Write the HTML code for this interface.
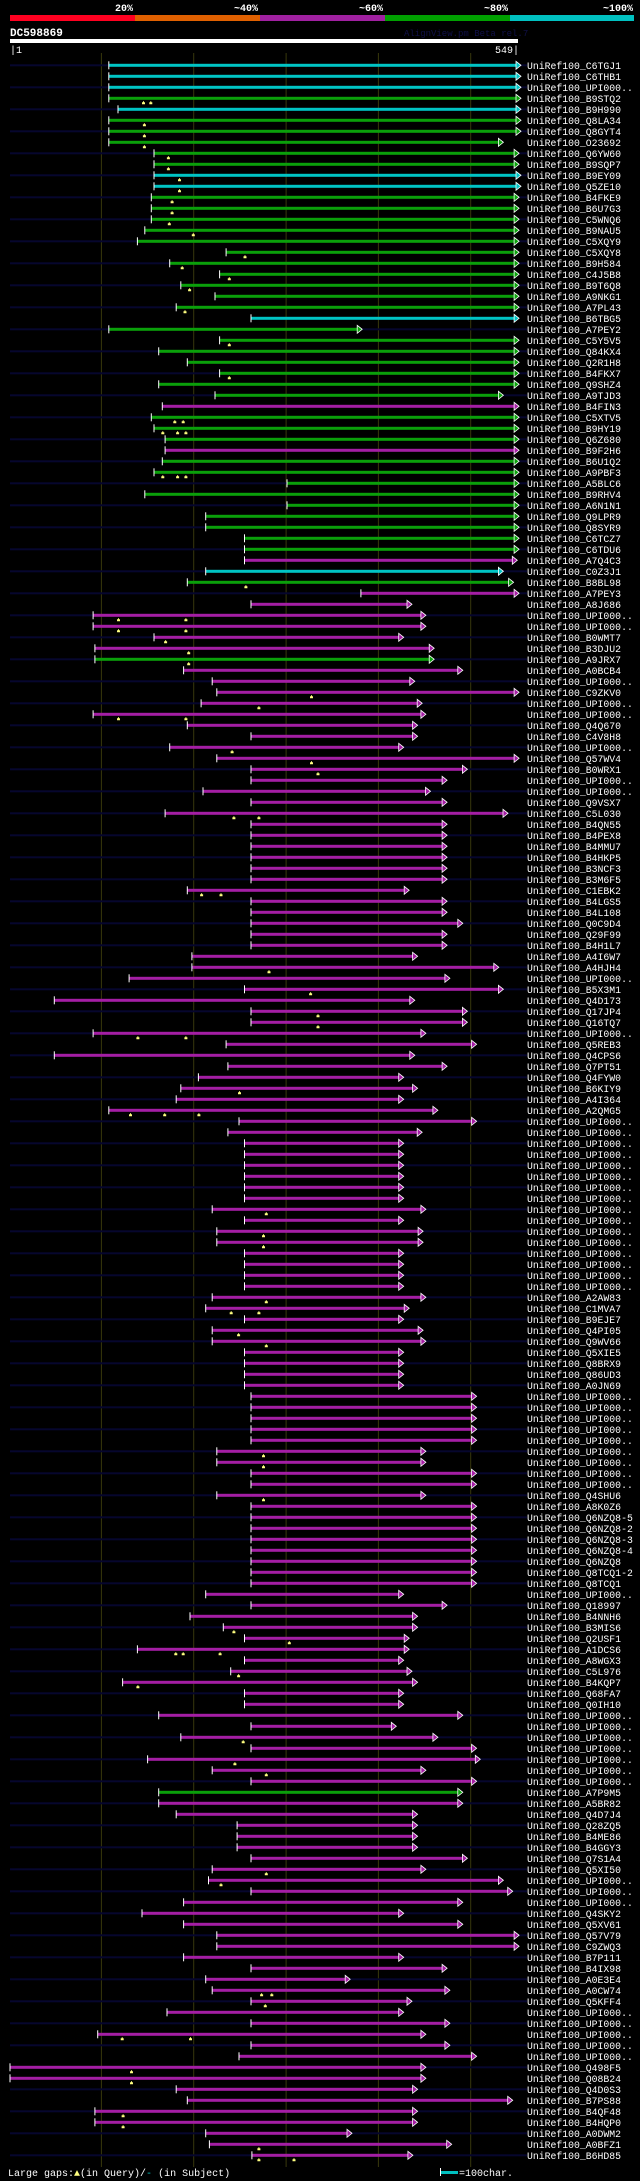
<!DOCTYPE html>
<html>
<head>
<meta charset="utf-8">
<style>
  html,body{margin:0;padding:0;background:#000;}
  body{width:640px;height:2181px;overflow:hidden;}
  svg{display:block;}
  text{font-family:"Liberation Mono","DejaVu Sans Mono",monospace;}
</style>
</head>
<body>
<svg id="chart" width="640" height="2181" viewBox="0 0 640 2181" xmlns="http://www.w3.org/2000/svg">
  <g>
    <rect x="10" y="15" width="125" height="6" fill="#ff0020"/>
    <rect x="135" y="15" width="125" height="6" fill="#e06000"/>
    <rect x="260" y="15" width="125" height="6" fill="#a020a0"/>
    <rect x="385" y="15" width="125" height="6" fill="#00a000"/>
    <rect x="510" y="15" width="124" height="6" fill="#00c0c0"/>
    <g font-size="10" font-weight="bold" fill="#fff" text-anchor="end">
      <text x="133" y="11">20%</text>
      <text x="258" y="11">~40%</text>
      <text x="383" y="11">~60%</text>
      <text x="508" y="11">~80%</text>
      <text x="633" y="11">~100%</text>
    </g>
  </g>
  <text x="10" y="36" font-size="11" font-weight="bold" fill="#fff">DC598869</text>
  <text x="404" y="36" font-size="9" fill="#101048">AlignView.pm Beta rel.7</text>
  <rect x="10" y="39" width="508" height="4" fill="#fff"/>
  <text x="10" y="53" font-size="10" fill="#fff">|1</text>
  <text x="519" y="53" font-size="10" fill="#fff" text-anchor="end">549|</text>
  <g id="grid"></g>
  <g id="rows"></g>
  <g>
    <text x="8" y="2176" font-size="10" fill="#fff">Large gaps:<tspan fill="#ffff80">▲</tspan>(in Query)/<tspan fill="#00c0c0">-</tspan> (in Subject)</text>
    <rect x="441" y="2171" width="17" height="3" fill="#00c0c0"/>
    <rect x="440" y="2168" width="1" height="8" fill="#fff"/>
    <text x="459" y="2176" font-size="10" fill="#fff">=100char.</text>
  </g>
</svg>
<script>
const gridTicks = [100, 200, 300, 400, 500];
const labels = ["C6TGJ1","C6THB1","UPI000..","B9STQ2","B9H990","Q8LA34","Q8GYT4","O23692","Q6YW60","B9SQP7","B9EY09","Q5ZE10","B4FKE9","B6U7G3","C5WNQ6","B9NAU5","C5XQY9","C5XQY8","B9H584","C4J5B8","B9T6Q8","A9NKG1","A7PL43","B6TBG5","A7PEY2","C5Y5V5","Q84KX4","Q2R1H8","B4FKX7","Q9SHZ4","A9TJD3","B4FIN3","C5XTV5","B9HY19","Q6Z680","B9F2H6","B6U1Q2","A9PBF3","A5BLC6","B9RHV4","A6N1N1","Q9LPR9","Q8SYR9","C6TCZ7","C6TDU6","A7Q4C3","C0Z3J1","B8BL98","A7PEY3","A8J686","UPI000..","UPI000..","B0WMT7","B3DJU2","A9JRX7","A0BCB4","UPI000..","C9ZKV0","UPI000..","UPI000..","Q4Q670","C4V8H8","UPI000..","Q57WV4","B0WRX1","UPI000..","UPI000..","Q9VSX7","C5L030","B4QN55","B4PEX8","B4MMU7","B4HKP5","B3NCF3","B3M6F5","C1EBK2","B4LGS5","B4L108","Q0C9D4","Q29F99","B4H1L7","A4I6W7","A4HJH4","UPI000..","B5X3M1","Q4D173","Q17JP4","Q16TQ7","UPI000..","Q5REB3","Q4CPS6","Q7PT51","Q4FYW0","B6KIY9","A4I364","A2QMG5","UPI000..","UPI000..","UPI000..","UPI000..","UPI000..","UPI000..","UPI000..","UPI000..","UPI000..","UPI000..","UPI000..","UPI000..","UPI000..","UPI000..","UPI000..","UPI000..","A2AW83","C1MVA7","B9EJE7","Q4PI05","Q9WV66","Q5XIE5","Q8BRX9","Q86UD3","A0JN69","UPI000..","UPI000..","UPI000..","UPI000..","UPI000..","UPI000..","UPI000..","UPI000..","UPI000..","Q4SHU6","A8K0Z6","Q6NZQ8-5","Q6NZQ8-2","Q6NZQ8-3","Q6NZQ8-4","Q6NZQ8","Q8TCQ1-2","Q8TCQ1","UPI000..","Q18997","B4NNH6","B3MIS6","Q2USF1","A1DCS6","A8WGX3","C5L976","B4KQP7","Q68FA7","Q0IH10","UPI000..","UPI000..","UPI000..","UPI000..","UPI000..","UPI000..","UPI000..","A7P9M5","A5BR82","Q4D7J4","Q28ZQ5","B4ME86","B4GGY3","Q7S1A4","Q5XI50","UPI000..","UPI000..","UPI000..","Q4SKY2","Q5XV61","Q57V79","C9ZWQ3","B7P111","B4IX98","A0E3E4","A0CW74","Q5KFF4","UPI000..","UPI000..","UPI000..","UPI000..","UPI000..","Q498F5","Q08B24","Q4D0S3","B7PS88","B4QF48","B4HQP0","A0DWM2","A0BFZ1","B6HD85"];
const identityClass = "cccgcgggggccgggggggggggcgggggggmgggmgggggggggmcgmmmmmmgmmmmmmmmmmmmmmmmmmmmmmmmmmmmmmmmmmmmmmmmmmmmmmmmmmmmmmmmmmmmmmmmmmmmmmmmmmmmmmmmmmmmmmmmmmmmmmmmmmmmmmgmmmmmmmmmmmmmmmmmmmmmmmmmmmmmmmmmmmmmmm";
const hitStarts = [108,108,108,108,118,108,108,108,157,157,157,157,154,154,154,147,139,235,174,228,186,223,181,262,108,228,162,193,228,162,223,166,154,157,169,169,166,157,301,147,301,213,213,255,255,255,213,193,381,262,91,91,157,93,93,189,220,225,208,91,193,262,174,225,262,262,210,262,169,262,262,262,262,262,262,193,262,262,262,262,262,198,198,130,255,49,262,262,91,235,49,237,205,186,181,108,249,237,255,255,255,255,255,255,220,255,225,225,255,255,255,255,220,213,255,220,220,255,255,255,255,262,262,262,262,262,225,225,262,262,225,262,262,262,262,262,262,262,262,213,262,196,232,255,139,255,240,123,255,255,162,262,186,262,150,220,262,162,162,181,247,247,247,262,220,216,262,189,144,189,225,225,189,262,213,220,262,171,262,96,262,249,1,1,181,193,93,93,213,217,263];
const hitEnds = [549,549,549,549,549,549,549,530,547,547,549,549,547,547,547,547,547,547,547,547,547,547,547,547,377,547,547,547,547,547,530,547,547,547,547,547,547,547,547,547,547,547,547,547,547,545,530,541,547,431,446,446,422,455,455,486,434,547,442,446,437,437,422,547,491,469,451,469,535,469,469,469,469,469,469,428,469,469,486,469,469,437,525,472,530,434,491,491,446,501,434,469,422,437,422,459,501,442,422,422,422,422,422,422,446,422,443,443,422,422,422,422,446,428,422,443,446,422,422,422,422,501,501,501,501,501,446,446,501,501,446,501,501,501,501,501,501,501,501,422,469,437,437,428,428,422,431,437,422,422,486,414,459,501,505,446,501,486,486,437,437,437,437,491,446,530,540,486,422,486,547,547,422,469,364,472,431,422,472,446,472,501,446,446,437,540,437,437,366,474,432];
const gapMarkers = {3:[145,153],5:[146],6:[146],7:[146],8:[172],9:[172],10:[184],11:[184],12:[176],13:[176],14:[173],15:[199],17:[255],18:[187],19:[238],20:[195],22:[190],25:[238],28:[238],32:[179,188],33:[166,182,191],37:[166,182,191],47:[256],50:[118,191],51:[118,191],52:[169],53:[194],54:[194],57:[327],58:[270],59:[118,191],62:[241],63:[327],64:[334],68:[243,270],75:[208,229],82:[281],84:[326],86:[334],87:[334],88:[139,191],93:[249],95:[131,168,205],104:[278],106:[275],107:[275],112:[278],113:[240,270],115:[248],116:[278],126:[275],127:[275],130:[275],142:[243],143:[303],144:[180,188,228],146:[248],147:[139],152:[253],154:[244],155:[278],164:[278],165:[229],175:[273,284],176:[277],179:[122,196],182:[132],183:[132],186:[123],187:[123],189:[270],190:[270,308]};

const NS = "http://www.w3.org/2000/svg";
const colorMap = {c:"#00c4c4", g:"#0aa00a", m:"#a41ea4"};
function xScale(u){ return 10 + (u - 1) * 0.9233; }
function rowY(i){ return 65.3 + 11 * i; }
function mk(tag, attrs){ const e = document.createElementNS(NS, tag); for (const k in attrs) e.setAttribute(k, attrs[k]); return e; }

const grid = document.getElementById("grid");
gridTicks.forEach(t => {
  const l = mk("rect", {x: (xScale(t) - 0.5).toFixed(1), y: 53, width: 1, height: 2114, fill: "#38380c"});
  
  
  grid.appendChild(l);
});

const rows = document.getElementById("rows");
labels.forEach((lab, i) => {
  const y = rowY(i);
  const g = mk("g", {});
  
  
  if (i % 2 === 0) {
    const bg = mk("rect", {x: 10, y: (y - 1).toFixed(1), width: 517, height: 2, fill: "#06062e"});
    
    
    g.appendChild(bg);
  }
  const col = colorMap[identityClass[i]];
  const x0 = xScale(hitStarts[i]), x1 = xScale(hitEnds[i]);
  const bar = mk("rect", {x: x0.toFixed(1), y: (y - 1.5).toFixed(1), width: (x1 - x0).toFixed(1), height: 3, fill: col});
  
  
  g.appendChild(bar);
  const tick = mk("rect", {x: (x0 - 0.5).toFixed(1), y: (y - 4).toFixed(1), width: 1, height: 8, fill: "#fff"});
  
  
  g.appendChild(tick);
  const arr = mk("polygon", {points: `${x1.toFixed(1)},${(y-4).toFixed(1)} ${(x1+5).toFixed(1)},${y.toFixed(1)} ${x1.toFixed(1)},${(y+4).toFixed(1)}`, fill: col, stroke: "#fff", "stroke-width": 0.8});
  
  
  g.appendChild(arr);
  (gapMarkers[i] || []).forEach(m => {
    const mx = xScale(m);
    const mkr = mk("path", {d: `M${(mx-1).toFixed(1)},${(y+6).toFixed(1)} h3 v-2 h-1 v-1 h-1 v1 h-1 z`, fill: "#ffff80"});
    
    
    g.appendChild(mkr);
  });
  const t = mk("text", {x: 527, y: (y + 3.5).toFixed(1), "font-size": "9.8", fill: "#fff"});
  t.textContent = "UniRef100_" + lab;
  
  
  g.appendChild(t);
  rows.appendChild(g);
});
</script>
</body>
</html>
